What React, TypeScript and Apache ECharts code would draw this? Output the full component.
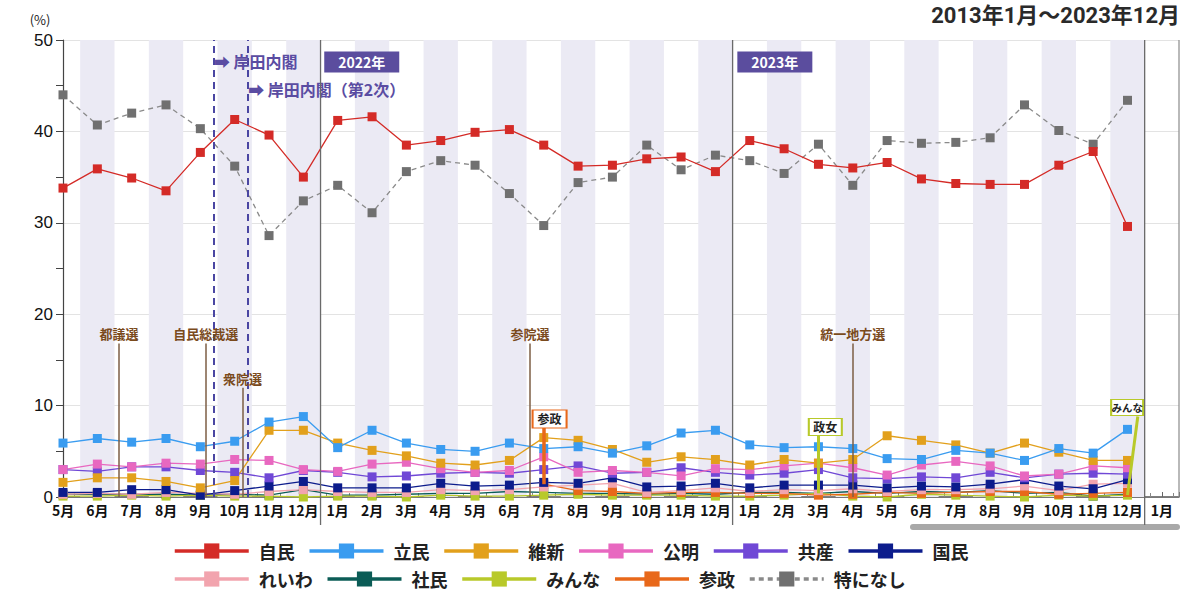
import React, { useEffect, useRef } from 'react';
import * as echarts from 'echarts';

// ---- categories (monthly survey, May 2021 .. Jan 2024) ----
const months = ['5月','6月','7月','8月','9月','10月','11月','12月','1月','2月','3月','4月','5月','6月','7月','8月','9月','10月','11月','12月','1月','2月','3月','4月','5月','6月','7月','8月','9月','10月','11月','12月','1月'];

// ---- series values (%) ----
const jimin = [33.8, 35.9, 34.9, 33.5, 37.7, 41.3, 39.6, 35.0, 41.2, 41.6, 38.5, 39.0, 39.9, 40.2, 38.5, 36.2, 36.3, 37.0, 37.2, 35.6, 39.0, 38.1, 36.4, 36.0, 36.6, 34.8, 34.3, 34.2, 34.2, 36.3, 37.8, 29.6];
const rikken = [5.9, 6.4, 6.0, 6.4, 5.5, 6.1, 8.2, 8.8, 5.4, 7.3, 5.9, 5.2, 5.0, 5.9, 5.3, 5.5, 4.8, 5.6, 7.0, 7.3, 5.7, 5.4, 5.5, 5.3, 4.2, 4.1, 5.1, 4.8, 4.0, 5.3, 4.8, 7.4];
const ishin = [1.6, 2.1, 2.1, 1.7, 1.0, 1.8, 7.3, 7.3, 5.9, 5.1, 4.5, 3.7, 3.5, 4.0, 6.5, 6.2, 5.2, 3.8, 4.4, 4.1, 3.5, 4.1, 3.7, 4.1, 6.7, 6.2, 5.7, 4.8, 5.9, 4.9, 4.0, 4.0];
const komei = [3.0, 3.6, 3.3, 3.7, 3.6, 4.1, 4.0, 3.0, 2.8, 3.6, 3.8, 3.1, 2.7, 2.9, 4.4, 2.7, 2.9, 2.7, 2.3, 3.1, 3.0, 3.4, 3.7, 3.2, 2.4, 3.5, 3.9, 3.4, 2.3, 2.5, 3.4, 3.2];
const kyosan = [3.0, 2.8, 3.3, 3.3, 2.9, 2.7, 2.1, 2.9, 2.7, 2.2, 2.3, 2.6, 2.7, 2.6, 3.0, 3.4, 2.6, 2.7, 3.2, 2.7, 2.4, 2.6, 3.0, 2.1, 2.0, 2.2, 2.1, 2.7, 2.1, 2.5, 2.6, 2.5];
const kokumin = [0.5, 0.5, 0.8, 0.8, 0.2, 0.7, 1.2, 1.7, 1.0, 1.0, 1.0, 1.5, 1.2, 1.3, 1.6, 1.5, 2.1, 1.1, 1.2, 1.5, 1.0, 1.3, 1.3, 1.3, 1.0, 1.2, 1.1, 1.4, 1.9, 1.2, 0.9, 1.9];
const reiwa = [0.3, 0.4, 0.3, 0.5, 0.4, 0.3, 0.6, 0.8, 0.6, 0.5, 0.5, 0.8, 0.7, 0.8, 1.1, 1.3, 1.5, 0.5, 0.7, 1.0, 0.6, 0.8, 0.7, 0.9, 0.6, 0.8, 0.8, 0.9, 1.2, 0.7, 1.4, 1.5];
const shamin = [0.3, 0.3, 0.3, 0.3, 0.2, 0.3, 0.2, 0.8, 0.2, 0.2, 0.3, 0.4, 0.4, 0.6, 0.5, 0.4, 0.4, 0.3, 0.4, 0.3, 0.5, 0.5, 0.4, 0.6, 0.4, 0.6, 0.5, 0.7, 0.4, 0.5, 0.1, 0.3];
const minna = [0.1, 0.1, 0.2, 0.1, 0.2, 0.1, 0.1, 0.0, 0.1, 0.1, 0.0, 0.2, 0.1, 0.1, 0.2, 0.3, 0.2, 0.2, 0.2, 0.1, 0.1, 0.2, 0.4, 0.1, 0.0, 0.3, 0.2, 0.1, 0.0, 0.2, 0.1, 0.2];
const sansei = [null, null, null, null, null, null, null, null, null, null, null, null, null, null, 1.4, 0.7, 0.6, 0.4, 0.5, 0.5, 0.4, 0.4, 0.2, 0.3, 0.5, 0.4, 0.5, 0.6, 0.6, 0.3, 0.4, 0.5];
const tokuninashi = [44.0, 40.7, 42.0, 42.9, 40.3, 36.2, 28.6, 32.4, 34.1, 31.1, 35.6, 36.8, 36.3, 33.2, 29.7, 34.4, 35.0, 38.5, 35.8, 37.4, 36.8, 35.4, 38.6, 34.1, 39.0, 38.7, 38.8, 39.3, 42.9, 40.1, 38.6, 43.4];

const yTicks = [0, 10, 20, 30, 40, 50];

// ---- annotations (positions in data space) ----
const events = [
  { name: '都議選', x: 1.63, top: 16.8 },
  { name: '自民総裁選', x: 4.16, top: 16.8 },
  { name: '衆院選', x: 5.23, top: 11.95 },
  { name: '参院選', x: 13.6, top: 16.8 },
  { name: '統一地方選', x: 23.0, top: 16.8 },
];
const cabinets = [
  { name: '➡ 岸田内閣', x: 4.38, y: 47.7 },
  { name: '➡ 岸田内閣（第2次）', x: 5.38, y: 44.6 },
];
const yearBadges = [
  { name: '2022年', x: 8.7, y: 47.6 },
  { name: '2023年', x: 20.73, y: 47.6 },
];
const yearBreaks = [7.5, 19.5, 31.5];

const FONT = '"Noto Sans CJK JP", "Noto Sans", sans-serif';

const C = {
  jimin: '#d42b27',
  rikken: '#3a9cf0',
  ishin: '#e2a01c',
  komei: '#e868c0',
  kyosan: '#7048d6',
  kokumin: '#0c1c8c',
  reiwa: '#f2a4ae',
  shamin: '#0b5c56',
  minna: '#b8c92a',
  sansei: '#e8681a',
  nashi: '#777777',
};

function mk(name: string, values: (number | null)[], color: string, extra: any = {}) {
  return {
    name,
    type: 'line',
    data: values.map((v, i) => [i, v == null ? '-' : v]),
    symbol: 'rect',
    symbolSize: 9,
    itemStyle: { color },
    lineStyle: { color, width: 1.3 },
    z: 3,
    silent: true,
    ...extra,
  };
}

export default function App() {
  const ref = useRef<HTMLDivElement>(null);

  useEffect(() => {
    const chart = echarts.init(ref.current!, null, { renderer: 'svg' });

    const bands: any[] = [];
    months.forEach((m, i) => {
      const n = parseInt(m, 10);
      if (n % 2 === 0) bands.push([{ xAxis: i - 0.5 }, { xAxis: i + 0.5 }]);
    });

    const legendCommon = {
      itemWidth: 74,
      itemHeight: 19,
      itemGap: 13,
      padding: 0,
      selectedMode: false,
      lineStyle: { width: 3.5 },
      textStyle: {
        fontSize: 18,
        fontWeight: 'bold',
        color: '#222',
        fontFamily: FONT,
        width: 52,
        overflow: 'none',
        padding: [0, 0, 0, 5],
      },
    };

    const option: any = {
      animation: false,
      backgroundColor: '#fff',
      title: {
        text: '2013年1月～2023年12月',
        right: 20,
        top: 4,
        padding: 0,
        textStyle: { fontSize: 22, fontWeight: 'bold', color: '#2a2a2a', fontFamily: 'Roboto, "Noto Sans CJK JP", sans-serif' },
      },
      grid: { left: 63, right: 21, top: 40, bottom: 103 },
      legend: [
        { ...legendCommon, data: ['自民', '立民', '維新', '公明', '共産', '国民'], left: 173, top: 542 },
        { ...legendCommon, data: ['れいわ', '社民', 'みんな', '参政', '特になし'], left: 173, top: 570 },
      ],
      xAxis: {
        type: 'value',
        min: 0,
        max: 32.5,
        interval: 1,
        axisLine: { show: true, onZero: false, lineStyle: { color: '#555', width: 1.5 } },
        axisTick: { show: true, inside: true, length: 5, lineStyle: { color: '#666' } },
        minorTick: { show: true, splitNumber: 3, length: 4, lineStyle: { color: '#888' } },
        splitLine: { show: false },
        axisLabel: {
          formatter: (v: number) => (Number.isInteger(v) ? months[v] ?? '' : ''),
          color: '#111',
          fontSize: 14,
          fontWeight: 'bold',
          fontFamily: FONT,
          margin: 6,
        },
      },
      yAxis: {
        type: 'value',
        min: yTicks[0],
        max: yTicks[yTicks.length - 1],
        interval: yTicks[1] - yTicks[0],
        axisLine: { show: true, lineStyle: { color: '#444', width: 1.2 } },
        axisTick: { show: true, length: 7, lineStyle: { color: '#444' } },
        minorTick: { show: true, splitNumber: 2, length: 7, lineStyle: { color: '#444' } },
        splitLine: { show: true, lineStyle: { color: '#e3e3e3' } },
        axisLabel: { color: '#111', fontSize: 17, fontFamily: '"Liberation Sans", Arial, sans-serif', margin: 10 },
      },
      series: [
        {
          name: 'bands',
          type: 'line',
          data: [],
          z: 1,
          silent: true,
          markArea: { silent: true, itemStyle: { color: '#ebeaf4' }, data: bands },
        },
        {
          name: 'events',
          type: 'line',
          data: [],
          z: 2,
          silent: true,
          markLine: {
            silent: true,
            symbol: 'none',
            data: [
              ...cabinets.map((c) => ({
                xAxis: c.x,
                lineStyle: { color: '#4a46a2', type: [7, 5], width: 2 },
                label: { show: false },
              })),
              ...events.map((e) => [
                {
                  name: e.name,
                  coord: [e.x, e.top],
                  lineStyle: { color: '#7d5e44', type: 'solid', width: 1.5 },
                  label: {
                    show: true,
                    position: 'start',
                    formatter: '{b}',
                    distance: 3,
                    color: '#7a4a1c',
                    fontSize: 13,
                    fontWeight: 'bold',
                    fontFamily: FONT,
                  },
                },
                { coord: [e.x, 0] },
              ]),
            ],
          },
          markPoint: {
            silent: true,
            data: [
              ...cabinets.map((c) => ({
                name: c.name,
                coord: [c.x, c.y],
                symbol: 'rect',
                symbolSize: 1,
                itemStyle: { color: 'rgba(0,0,0,0)' },
                label: {
                  show: true,
                  position: 'right',
                  distance: 0,
                  formatter: '{b}',
                  color: '#5a4ca2',
                  fontSize: 16,
                  fontWeight: 'bold',
                  fontFamily: FONT,
                },
              })),
              ...yearBadges.map((b) => ({
                name: b.name,
                coord: [b.x, b.y],
                symbol: 'rect',
                symbolSize: [75, 21],
                itemStyle: { color: '#5b4d9e' },
                label: {
                  show: true,
                  position: 'inside',
                  formatter: '{b}',
                  color: '#fff',
                  fontSize: 14,
                  fontWeight: 'bold',
                  fontFamily: FONT,
                },
              })),
            ],
          },
        },
        mk('特になし', tokuninashi, C.nashi, {
          itemStyle: { color: '#707070' },
          lineStyle: { color: '#8a8a8a', width: 1.3, type: [5, 4] },
        }),
        mk('社民', shamin, C.shamin),
        mk('みんな', minna, C.minna),
        mk('参政', sansei, C.sansei),
        mk('れいわ', reiwa, C.reiwa),
        mk('国民', kokumin, C.kokumin),
        mk('共産', kyosan, C.kyosan),
        mk('公明', komei, C.komei),
        mk('維新', ishin, C.ishin),
        mk('立民', rikken, C.rikken),
        mk('自民', jimin, C.jimin),
        {
          name: 'callouts',
          type: 'line',
          data: [],
          z: 6,
          silent: true,
          markLine: {
            silent: true,
            symbol: 'none',
            label: { show: false },
            data: [
              [{ coord: [14, sansei[14]], lineStyle: { color: C.sansei, width: 3.5, type: 'solid' } }, { coord: [14, 7.55] }],
              [{ coord: [22, minna[22]], lineStyle: { color: C.minna, width: 3, type: 'solid' } }, { coord: [22, 6.8] }],
              [{ coord: [31, minna[31]], lineStyle: { color: C.minna, width: 3, type: 'solid' } }, { coord: [31.3, 8.8] }],
            ],
          },
          markPoint: {
            silent: true,
            symbol: 'rect',
            data: [
              { name: '参政', coord: [14.17, 8.54], symbolSize: [34, 18], color: C.sansei, fs: 12 },
              { name: '政女', coord: [22.2, 7.66], symbolSize: [33, 17], color: C.minna, fs: 12 },
              { name: 'みんな', coord: [30.99, 9.8], symbolSize: [32, 16], color: C.minna, fs: 10.5 },
            ].map((d) => ({
              name: d.name,
              coord: d.coord,
              symbol: 'rect',
              symbolSize: d.symbolSize,
              itemStyle: { color: '#fff', borderColor: d.color, borderWidth: 1.5 },
              label: {
                show: true,
                position: 'inside',
                formatter: '{b}',
                color: '#222',
                fontSize: d.fs,
                fontWeight: 'bold',
                fontFamily: FONT,
              },
            })),
          },
        },
      ],
    };

    chart.setOption(option);

    // second pass: decorations that reach outside the grid, placed via the axes' own scale
    const px = (x: number, y: number) => chart.convertToPixel({ gridIndex: 0 }, [x, y]) as number[];
    const [, yTop] = px(0, 50);
    const [, yBase] = px(0, 0);
    const [xRight] = px(32.5, 0);
    const graphics: any[] = [];
    yearBreaks.forEach((v) => {
      const [x] = px(v, 0);
      graphics.push({
        type: 'line',
        shape: { x1: x, y1: yTop, x2: x, y2: yBase + 28 },
        style: { stroke: '#6a6a6a', lineWidth: 1.3 },
        z: 50,
        silent: true,
      });
    });
    graphics.push({
      type: 'line',
      shape: { x1: xRight, y1: yTop, x2: xRight, y2: yBase },
      style: { stroke: '#8a8a8a', lineWidth: 1.2 },
      z: 50,
      silent: true,
    });
    graphics.push({
      type: 'rect',
      shape: { x: 910, y: 524, width: 270, height: 6, r: 3 },
      style: { fill: '#a8a8a8' },
      silent: true,
    });
    graphics.push({
      type: 'text',
      x: 40,
      y: 19,
      style: { text: '(%)', fill: '#222', fontSize: 13, fontFamily: FONT, align: 'center', verticalAlign: 'middle' },
      silent: true,
    });
    chart.setOption({ graphic: graphics });

    return () => chart.dispose();
  }, []);

  return (
    <div
      ref={ref}
      style={{ position: 'fixed', left: 0, top: 0, width: 1200, height: 600, background: '#fff' }}
    />
  );
}
